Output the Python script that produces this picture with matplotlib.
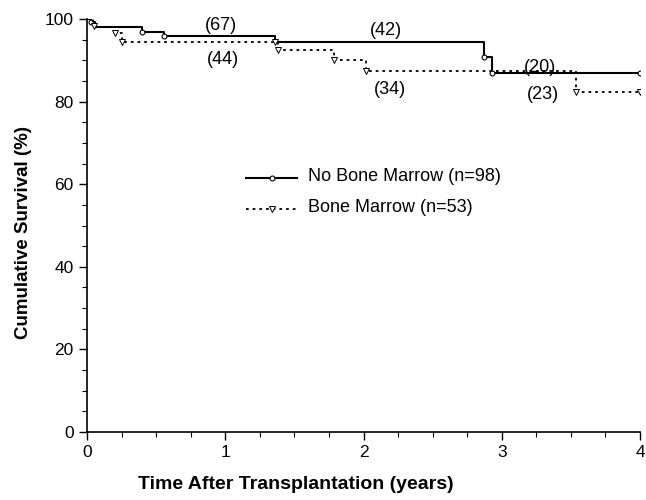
import matplotlib.pyplot as plt

plt.rcParams['font.family'] = ['Liberation Sans', 'DejaVu Sans']

# No Bone Marrow (n=98)
nbm_t = [0, 0.03, 0.06, 0.40, 0.56, 1.36, 2.87, 2.93, 4.0]
nbm_s = [100, 99.3, 98.0, 96.8, 95.8, 94.4, 90.7, 86.9, 86.9]
nbm_ct = [0.03, 0.40, 0.56, 2.87, 2.93, 4.0]
nbm_cs = [99.3, 96.8, 95.8, 90.7, 86.9, 86.9]

# Bone Marrow (n=53)
bm_t = [0, 0.04, 0.06, 0.20, 0.25, 1.36, 1.38, 1.79, 2.02, 3.54, 4.0]
bm_s = [100, 98.8, 98.0, 96.5, 94.5, 94.4, 92.5, 90.0, 87.5, 82.4, 82.4]
bm_ct = [0.05, 0.20, 0.25, 1.36, 1.38, 1.79, 2.02, 3.54, 4.0]
bm_cs = [98.2, 96.5, 94.5, 94.4, 92.5, 90.0, 87.5, 82.4, 82.4]

# numbers at risk
risk_txt = ['(67)', '(44)', '(42)', '(34)', '(20)', '(23)']
risk_x = [0.97, 0.98, 2.16, 2.19, 3.28, 3.30]
risk_y = [98.5, 90.3, 97.1, 83.0, 88.3, 81.8]

fig = plt.figure(figsize=(6.46, 5.0), dpi=100)
ax = fig.add_axes([0.1347, 0.136, 0.856, 0.826])

ax.step(nbm_t, nbm_s, where='post', color='black', lw=1.5)
ax.plot(nbm_ct, nbm_cs, 'o', ms=3.5, mfc='white', mec='black', mew=0.8)
ax.step(bm_t, bm_s, where='post', color='black', lw=1.3, dashes=(1.5, 2.2))
ax.plot(bm_ct, bm_cs, 'v', ms=4, mfc='white', mec='black', mew=0.7)

for s, x, y in zip(risk_txt, risk_x, risk_y):
    ax.text(x, y, s, fontsize=13, ha='center', va='center')

# legend drawn by hand
lx0, lx1 = 1.15, 1.52
ax.plot([lx0, lx1], [61.5, 61.5], color='black', lw=1.5)
ax.plot([(lx0 + lx1) / 2], [61.5], 'o', ms=3.5, mfc='white', mec='black', mew=0.8)
ax.text(1.60, 61.8, 'No Bone Marrow (n=98)', fontsize=13, va='center')
ax.plot([lx0, lx1], [54.0, 54.0], color='black', lw=1.3, dashes=(1.5, 2.2))
ax.plot([(lx0 + lx1) / 2], [54.0], 'v', ms=4, mfc='white', mec='black', mew=0.7)
ax.text(1.60, 54.3, 'Bone Marrow (n=53)', fontsize=13, va='center')

ax.set_xlim(0, 4)
ax.set_ylim(0, 100)
ax.set_xticks([0, 1, 2, 3, 4])
ax.set_yticks([0, 20, 40, 60, 80, 100])
ax.set_xticks([i * 0.25 for i in range(17)], minor=True)
ax.set_yticks(list(range(0, 101, 5)), minor=True)
ax.tick_params(axis='both', which='major', length=6, width=1, labelsize=12.5, direction='out')
ax.tick_params(axis='both', which='minor', length=3.5, width=0.8, direction='out')
ax.spines['top'].set_visible(False)
ax.spines['right'].set_visible(False)
ax.spines['left'].set_linewidth(1.2)
ax.spines['bottom'].set_linewidth(1.2)

ax.set_ylabel('Cumulative Survival (%)', fontsize=13.5, fontweight='bold')
ax.yaxis.set_label_coords(-0.1, 0.482)
ax.set_xlabel('Time After Transplantation (years)', fontsize=14, fontweight='bold', va='center')
ax.xaxis.set_label_coords(0.378, -0.126)

fig.savefig('out.png', dpi=100)
